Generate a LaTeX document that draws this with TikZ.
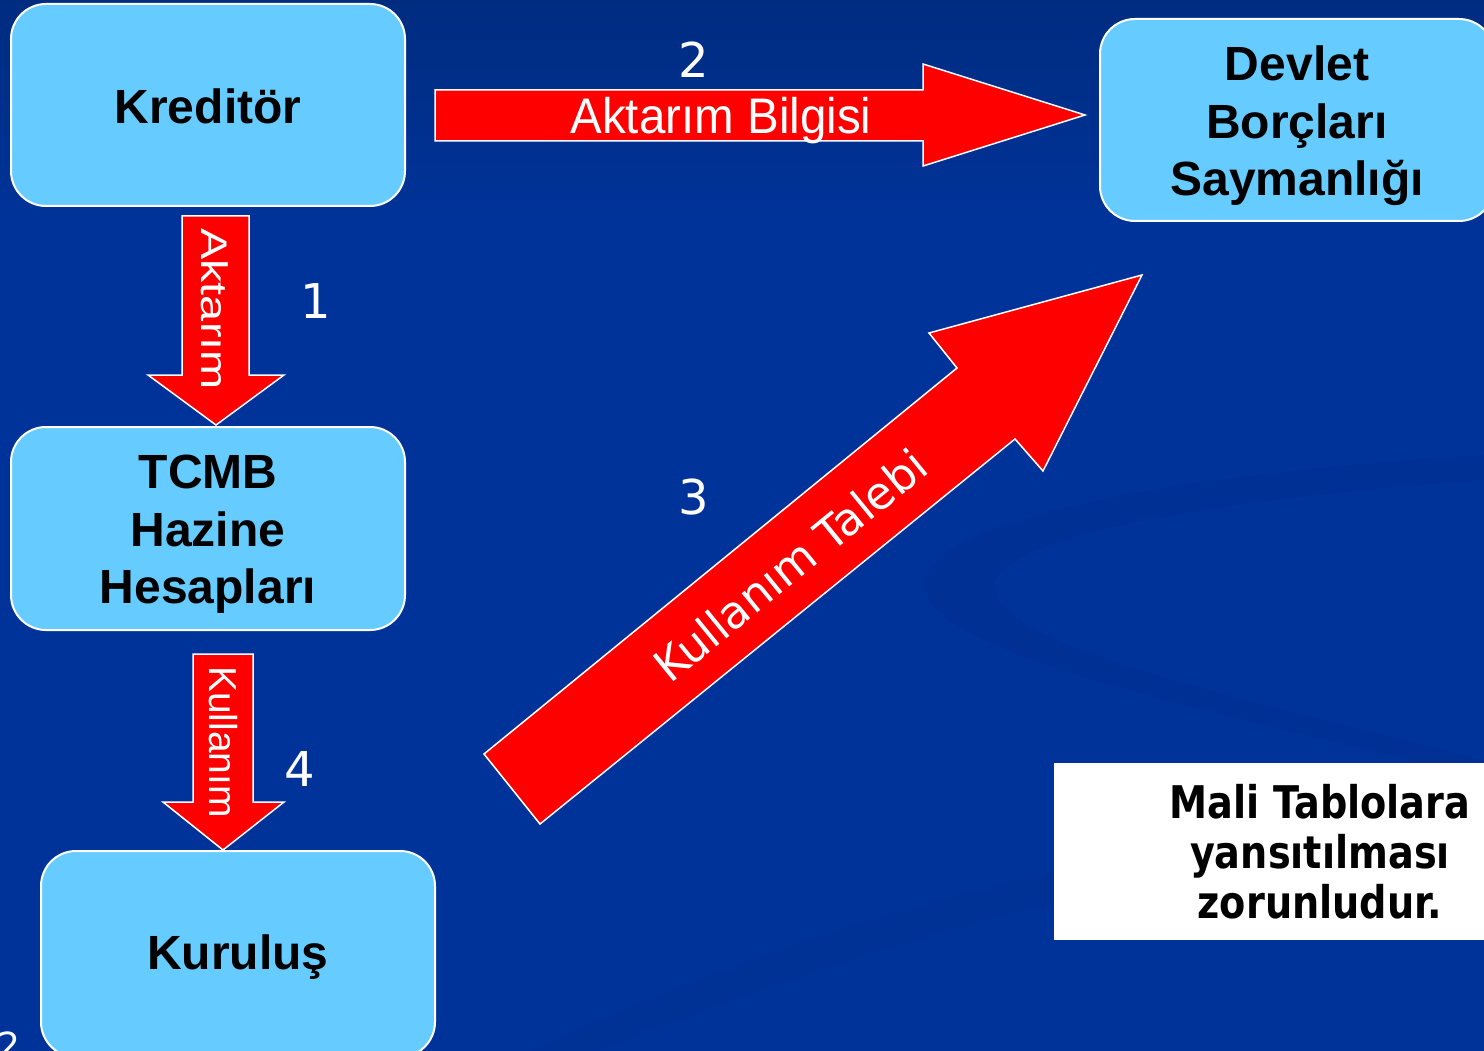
\documentclass[tikz,border=0pt]{standalone}
\usepackage{fontspec}
\setmainfont{Liberation Sans}
\newfontfamily\tah{DejaVu Sans}
\definecolor{bg}{HTML}{003399}
\definecolor{bgtop}{HTML}{002C80}
\definecolor{swoosh}{HTML}{002E8C}
\definecolor{boxblue}{HTML}{66CCFF}
\definecolor{arrred}{HTML}{FF0000}
\tikzset{
  box/.style={draw=white, line width=2pt, fill=boxblue, rounded corners=35pt,
    inner sep=0pt, minimum width=394pt, minimum height=202pt},
  boxtext/.style={align=center, text=black, inner sep=0pt,
    font=\fontsize{48}{57.5}\selectfont\bfseries},
  blockarrow/.style={draw=white, line width=1.5pt, fill=arrred, line join=miter},
  arrlabel/.style={text=white, inner sep=0pt},
  stepnum/.style={text=white, inner sep=0pt, font=\tah\fontsize{48}{48}\selectfont},
}
\begin{document}
\begin{tikzpicture}[x=1pt,y=-1pt]
\useasboundingbox (0,0) rectangle (1484,1051);
\clip (0,0) rectangle (1484,1051);
% background
\fill[bg] (0,0) rectangle (1484,1051);
\shade[top color=bgtop, bottom color=bg] (0,0) rectangle (1484,220);
\fill[swoosh, opacity=0.45] (1484,455) .. controls (1150,475) and (910,525) .. (925,590)
   .. controls (945,665) and (1250,715) .. (1484,780) -- (1484,760)
   .. controls (1270,705) and (1005,650) .. (995,590)
   .. controls (985,540) and (1200,500) .. (1484,480) -- cycle;
\fill[swoosh, opacity=0.25] (600,1051) .. controls (900,930) and (1150,870) .. (1484,830)
   -- (1484,805) .. controls (1100,845) and (850,905) .. (530,1051) -- cycle;

% boxes
\node[box] (kred) at (208,105) {};
\node[boxtext] (kredt) at ([yshift=-1pt]kred.center) {Kreditör};
\node[box, minimum height=203pt] (tcmb) at (208,528.5) {};
\node[boxtext] (tcmbt) at ([yshift=-6pt]tcmb.center) {TCMB\\Hazine\\Hesapları};
\node[box, minimum height=206pt] (kur) at (238,954) {};
\node[boxtext] (kurt) at ([yshift=-3pt]kur.center) {Kuruluş};
\node[box] (dbs) at (1297,120) {};
\node[boxtext] (dbst) at ([yshift=-6pt]dbs.center) {Devlet\\Borçları\\Saymanlığı};

% white note
\fill[white] (1054,763) rectangle (1484,940);
\node[align=center, inner sep=0pt, font=\tah\bfseries\fontsize{45}{50}\selectfont] (note) at (1320,852)
  {\scalebox{0.85}[1]{Mali Tablolara}\\\scalebox{0.85}[1]{yansıtılması}\\\scalebox{0.85}[1]{zorunludur.}};

% arrow 2: Kreditör -> Devlet
\draw[blockarrow] (435,90) -- (923,90) -- (923,64) -- (1085,115) -- (923,166) -- (923,141) -- (435,141) -- cycle;
\node[arrlabel, font=\fontsize{50}{50}\selectfont] (l2) at (721,121) {\scalebox{0.95}[1]{Aktarım Bilgisi}};
\node[stepnum] (n2) at (694,60) {2};

% arrow 1: Kreditör -> TCMB
\draw[blockarrow] (182,216) -- (249,216) -- (249,375) -- (284,375) -- (216,425) -- (148,375) -- (182,375) -- cycle;
\node[arrlabel, rotate=-90, font=\fontsize{37}{37}\selectfont] (l1) at (215,309) {\scalebox{1.27}[1]{Aktarım}};
\node[stepnum] (n1) at (316,301) {1};

% arrow 4: TCMB -> Kuruluş
\draw[blockarrow] (193,654) -- (253,654) -- (253,802) -- (284,802) -- (223,850) -- (163,802) -- (193,802) -- cycle;
\node[arrlabel, rotate=-90, font=\fontsize{39}{39}\selectfont] (l4) at (223,742) {Kullanım};
\node[stepnum] (n4) at (300,769) {4};

% arrow 3: Kuruluş -> Devlet
\draw[blockarrow] (484,754) -- (957,368) -- (929,333) -- (1142,275) -- (1043,471) -- (1015,439) -- (540,824) -- cycle;
\node[arrlabel, rotate=39.2, font=\tah\fontsize{45}{45}\selectfont] (l3) at (790,565) {Kullanım Talebi};
\node[stepnum] (n3) at (694,497) {3};

% page number (cut off)
\node[text=white, inner sep=0pt, anchor=north, font=\tah\fontsize{36}{36}\selectfont] (pg) at (9,1032) {2};
\end{tikzpicture}
\end{document}
